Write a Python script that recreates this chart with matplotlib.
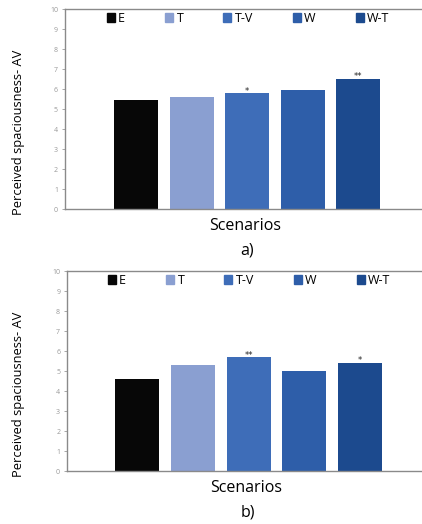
import matplotlib
matplotlib.use('Agg')
from matplotlib import pyplot as plt
from matplotlib.patches import Patch

plt.rcParams['font.family'] = ['Open Sans', 'DejaVu Sans']

scenarios = ['E', 'T', 'T-V', 'W', 'W-T']
colors = ['#070707', '#8a9fd1', '#3e6db8', '#2e5ea9', '#1c4a8e']
vals_a = [5.47, 5.6, 5.8, 5.95, 6.53]
vals_b = [4.6, 5.33, 5.7, 5.0, 5.43]
sig_a = ['', '', '*', '', '**']
sig_b = ['', '', '**', '', '*']
yticks = list(range(0, 11))

fig = plt.figure(figsize=(4.22, 5.24), dpi=100)

def panel(rect, vals, sig, tag, xlim, lab_x):
    ax = fig.add_axes(rect)
    xs = range(len(scenarios))
    ax.bar(xs, vals, width=0.79, color=colors, zorder=2)
    for x, v, s in zip(xs, vals, sig):
        if s:
            ax.text(x, v - 0.12, s, ha='center', va='bottom', fontsize=6,
                    color='#222222', family='DejaVu Sans')
    ax.set_xlim(*xlim)
    ax.set_ylim(0, 10)
    ax.set_yticks(yticks)
    ax.set_xticks([])
    ax.tick_params(axis='y', length=2, width=0.6, colors='#999999',
                   labelsize=5, pad=3)
    for sp in ['left', 'bottom', 'top']:
        ax.spines[sp].set_color('#8a8a8a')
        ax.spines[sp].set_linewidth(1.0)
    ax.spines['right'].set_visible(False)
    ax.set_ylabel('Perceived spaciousness- AV', fontsize=9.3)
    ax.yaxis.set_label_coords(lab_x, 0.385)
    ax.text(0.505, -0.083, 'Scenarios', transform=ax.transAxes,
            ha='center', va='center', fontsize=11.5)
    ax.text(0.51, -0.205, tag, transform=ax.transAxes,
            ha='center', va='center', fontsize=11.5)
    handles = [Patch(color=c, label=n) for c, n in zip(colors, scenarios)]
    ax.legend(handles=handles, ncol=5, loc='center', bbox_to_anchor=(0.513, 0.955),
              frameon=False, fontsize=9, handlelength=0.65, handleheight=0.65,
              handletextpad=0.25, columnspacing=3.2, borderaxespad=0)
    return ax

panel([0.154, 0.6006, 0.846, 0.3817], vals_a, sig_a, 'a)', (-1.28, 5.15), -0.112)
panel([0.159, 0.1006, 0.841, 0.3817], vals_b, sig_b, 'b)', (-1.26, 5.11), -0.118)

fig.savefig('out.png', dpi=100)
